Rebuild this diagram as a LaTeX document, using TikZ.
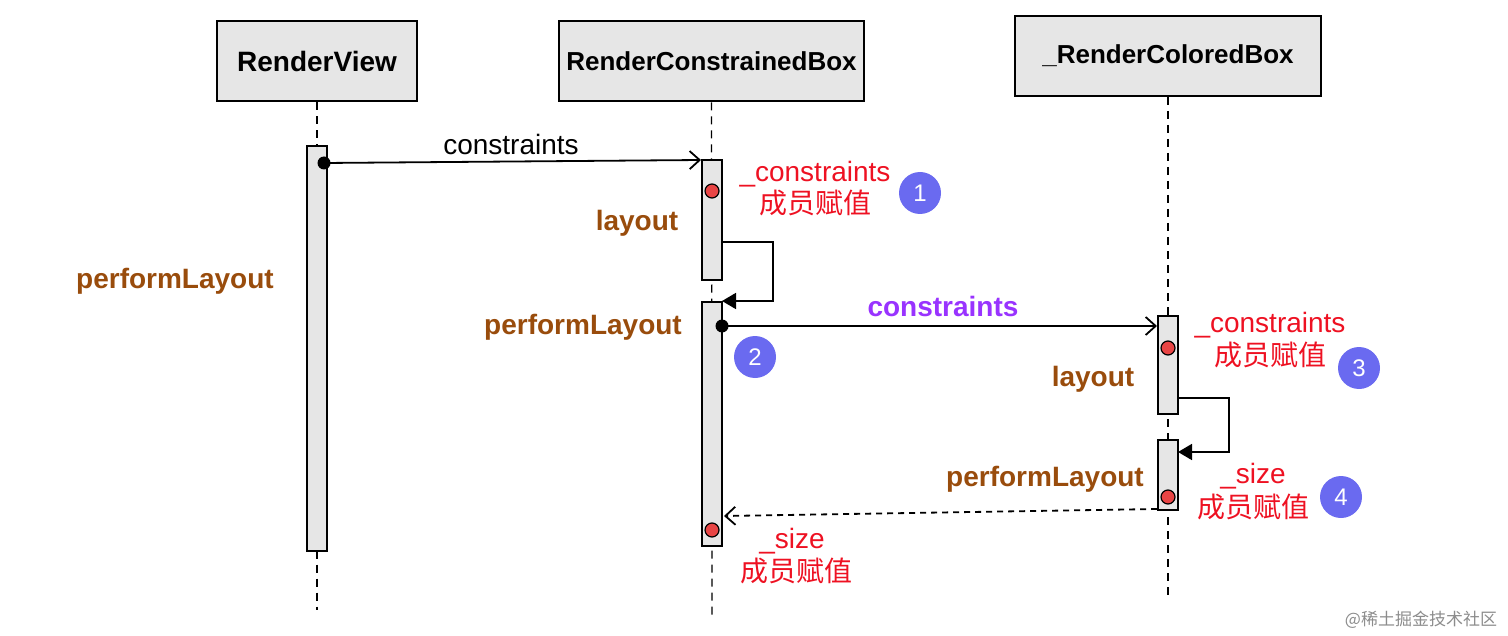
\documentclass[tikz,border=0pt]{standalone}
\usepackage{fontspec}
\setmainfont{Liberation Sans}
\newfontfamily\cjk{Noto Sans CJK SC}
\usetikzlibrary{arrows.meta,calc}
\definecolor{brn}{HTML}{994C0C}
\definecolor{redt}{HTML}{EE1122}
\definecolor{purp}{HTML}{9933FF}
\definecolor{badgec}{HTML}{6A6AF0}
\definecolor{actfill}{HTML}{E6E6E6}
\definecolor{dotred}{HTML}{E84545}
\begin{document}
\begin{tikzpicture}[x=0.5pt,y=-0.5pt,
  head/.style={draw,line width=1pt,fill=actfill,minimum width=#1,minimum height=40pt,inner sep=0pt,font=\bfseries\fontsize{14}{16}\selectfont},
  lifeline/.style={dash pattern=on 4pt off 3pt,line width=0.6pt},
  act/.style={draw,line width=0.9pt,fill=actfill,minimum width=10pt,inner sep=0pt,minimum height=#1},
  msg/.style={line width=0.9pt,-{Straight Barb[length=5pt,width=9pt]}},
  retmsg/.style={line width=0.9pt,dash pattern=on 3pt off 2.5pt,-{Straight Barb[length=5pt,width=9pt]}},
  selfmsg/.style={line width=0.9pt,-{Triangle[length=7pt,width=8pt]}},
  startdot/.style={circle,fill=black,inner sep=0pt,minimum size=6.5pt},
  rdot/.style={circle,draw,fill=dotred,line width=0.6pt,inner sep=0pt,minimum size=7pt},
  badge/.style={circle,fill=badgec,text=white,minimum size=21pt,inner sep=0pt,font=\fontsize{12}{14}\selectfont},
  brnl/.style={text=brn,inner sep=0pt,font=\bfseries\fontsize{14}{16}\selectfont},
  blkl/.style={inner sep=0pt,font=\fontsize{14}{16}\selectfont},
  purl/.style={text=purp,inner sep=0pt,font=\bfseries\fontsize{14}{16}\selectfont},
  redl/.style={text=redt,inner sep=0pt,font=\fontsize{14}{16}\selectfont},
  redc/.style={text=redt,inner sep=0pt,font=\cjk\fontsize{14}{16}\selectfont},
  wm/.style={text=black!45,inner sep=0pt,font=\cjk\fontsize{8.5}{10}\selectfont}
]
\useasboundingbox (0,0) rectangle (1508,636);

% heads
\node[head=100pt]   (rv)  at (317,61.5)  {RenderView};
\node[head=152.5pt,font=\bfseries\fontsize{13}{15}\selectfont] (rcb) at (711.5,61.5) {RenderConstrainedBox};
\node[head=153pt,font=\bfseries\fontsize{13}{15}\selectfont]   (rco) at (1168,56)   {\_RenderColoredBox};

% lifeline ends
\coordinate (rvEnd)  at (317,610);
\coordinate (rcbEnd) at (712,620);
\coordinate (rcoEnd) at (1168,595);
\draw[lifeline] (rv.south)  -- (rvEnd);
\draw[lifeline] (rcb.south) -- (rcbEnd);
\draw[lifeline] (rco.south) -- (rcoEnd);

% activations
\node[act=202.5pt] (arv) at (317,348.5) {};
\node[act=60pt]    (a1)  at (712,220)   {};
\node[act=122pt]   (a2)  at (712,424)   {};
\node[act=49pt]    (a3)  at (1168,365)  {};
\node[act=35pt]    (a4)  at (1168,475)  {};

% message 1
\node[startdot] (s1) at (324,163) {};
\coordinate (e1) at (701,160);
\draw[msg] (s1.center) -- (e1);
\node[blkl] (l1) at (511,144) {constraints};

% self loop 1
\coordinate (sl1a) at (722,242);
\coordinate (sl1b) at (773,301);
\coordinate (sl1c) at (722,301);
\draw[selfmsg] (sl1a) -| (sl1b) -- (sl1c);

% message 2
\node[startdot] (s2) at (722,326) {};
\coordinate (e2) at (1157,326);
\draw[msg] (s2.center) -- (e2);
\node[purl] (l2) at (943,306) {constraints};

% self loop 2
\coordinate (sl2a) at (1178,398);
\coordinate (sl2b) at (1229,452);
\coordinate (sl2c) at (1178,452);
\draw[selfmsg] (sl2a) -| (sl2b) -- (sl2c);

% return
\coordinate (r0) at (1157,509);
\coordinate (r1) at (724,516);
\draw[retmsg] (r0) -- (r1);

% red dots
\node[rdot] (d1) at (712,191) {};
\node[rdot] (d3) at (1168,348) {};
\node[rdot] (d4) at (1168,497) {};
\node[rdot] (d2) at (712,530) {};

% labels
\node[brnl] at (175,281) {performLayout};
\node[brnl] at (637,223) {layout};
\node[brnl] at (583,327) {performLayout};
\node[brnl] at (1093,379) {layout};
\node[brnl] at (1045,479) {performLayout};

\node[redl] at (815,174) {\_constraints};
\node[redc] at (815,203) {成员赋值};
\node[redl] at (1270,325) {\_constraints};
\node[redc] at (1270,355) {成员赋值};
\node[redl] at (1253,476) {\_size};
\node[redc] at (1253,507) {成员赋值};
\node[redl] at (792,541) {\_size};
\node[redc] at (796,571) {成员赋值};

% badges
\node[badge] (b1) at (920,193) {1};
\node[badge] (b2) at (755,357) {2};
\node[badge] (b3) at (1359,368) {3};
\node[badge] (b4) at (1341,497) {4};

% watermark
\node[wm] at (1421,620) {@稀土掘金技术社区};
\end{tikzpicture}
\end{document}
